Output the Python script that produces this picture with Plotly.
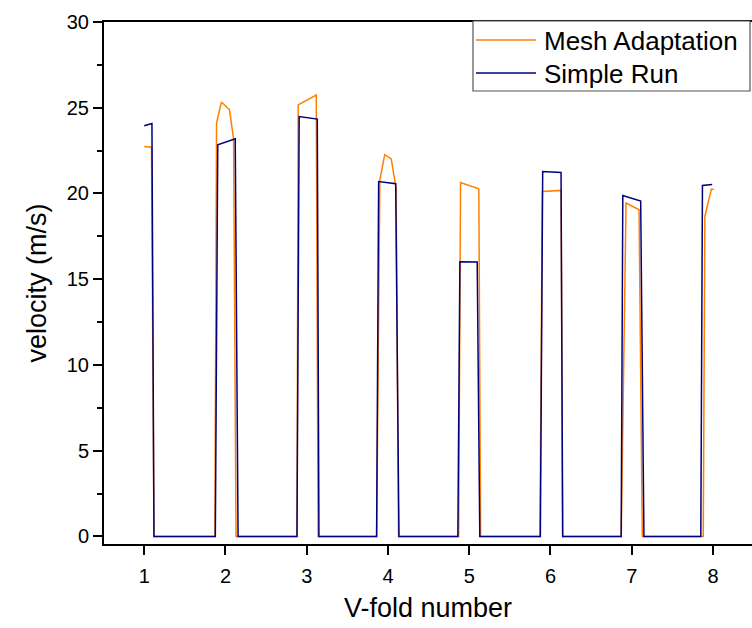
import plotly.graph_objects as go

# Mesh Adaptation (orange)
mesh_x = [1.0, 1.09, 1.12, 1.87, 1.89, 1.95, 2.05, 2.10, 2.13, 2.88, 2.895, 3.117, 3.14,
          3.86, 3.90, 3.96, 4.04, 4.10, 4.13, 4.87, 4.893, 5.118, 5.14, 5.87, 5.90, 6.13,
          6.15, 6.87, 6.93, 7.09, 7.13, 7.88, 7.90, 7.98, 8.01]
mesh_y = [22.74, 22.70, 0, 0, 24.1, 25.33, 24.88, 23.17, 0, 0, 25.17, 25.74, 0,
          0, 20.8, 22.26, 22.02, 20.3, 0, 0, 20.64, 20.27, 0, 0, 20.12, 20.18,
          0, 0, 19.44, 19.05, 0, 0, 18.66, 20.26, 20.23]

# Simple Run (navy)
simple_x = [1.0, 1.095, 1.12, 1.875, 1.905, 2.12, 2.155, 2.88, 2.907, 3.13, 3.15,
            3.86, 3.885, 4.095, 4.135, 4.86, 4.885, 5.098, 5.13, 5.875, 5.904, 6.13,
            6.15, 6.87, 6.89, 7.11, 7.15, 7.85, 7.87, 7.99]
simple_y = [23.95, 24.08, 0, 0, 22.84, 23.19, 0, 0, 24.49, 24.34, 0,
            0, 20.7, 20.57, 0, 0, 16.02, 16.0, 0, 0, 21.28, 21.23,
            0, 0, 19.88, 19.56, 0, 0, 20.47, 20.52]

series_names = ["Mesh Adaptation", "Simple Run"]
series_colors = ["#FF8000", "#000080"]

x_ticks = [1, 2, 3, 4, 5, 6, 7, 8]
y_ticks = [0, 5, 10, 15, 20, 25, 30]

FONT = "Liberation Sans, Arial, sans-serif"

fig = go.Figure()
for name, xs, ys, col in zip(series_names, [mesh_x, simple_x], [mesh_y, simple_y], series_colors):
    fig.add_trace(go.Scatter(x=xs, y=ys, mode="lines", name=name,
                             line=dict(color=col, width=1.5), showlegend=False))

# Legend drawn as a framed box (plot-area paper coordinates)
PL, PR, PT, PB = 104, 752, 22, 544
def px(xp):
    return (xp - PL) / (PR - PL)
def py(yp):
    return (PB - yp) / (PB - PT)

shapes = [dict(type="rect", xref="paper", yref="paper",
               x0=px(473), x1=px(750), y0=py(91), y1=py(21),
               line=dict(color="#555555", width=1.2), fillcolor="white", layer="above")]
annotations = []
row_y = [40, 73]
for name, col, ry in zip(series_names, series_colors, row_y):
    shapes.append(dict(type="line", xref="paper", yref="paper",
                       x0=px(476), x1=px(536), y0=py(ry), y1=py(ry),
                       line=dict(color=col, width=1.5), layer="above"))
    annotations.append(dict(text=name, xref="paper", yref="paper", x=px(542), y=py(ry + 1),
                            xanchor="left", yanchor="middle", showarrow=False,
                            font=dict(size=26, family=FONT, color="black")))

fig.update_layout(
    width=752, height=628,
    margin=dict(l=PL, r=0, t=PT, b=628 - PB),
    paper_bgcolor="white", plot_bgcolor="white",
    font=dict(family=FONT, color="black"),
    showlegend=False,
    shapes=shapes,
    annotations=annotations,
    xaxis=dict(range=[0.505, 8.48], tickvals=x_ticks, ticktext=[str(v) for v in x_ticks],
               showgrid=False, zeroline=False, showline=True, linecolor="black", linewidth=2,
               mirror=True, ticks="outside", ticklen=9, tickwidth=2, tickcolor="black",
               ticklabelstandoff=4,
               tickfont=dict(size=20, family=FONT),
               title=dict(text="V-fold number", font=dict(size=27, family=FONT), standoff=12)),
    yaxis=dict(range=[-0.44, 30], tickvals=y_ticks, ticktext=[str(v) for v in y_ticks],
               showgrid=False, zeroline=False, showline=True, linecolor="black", linewidth=2,
               mirror=False, ticks="outside", ticklen=9, tickwidth=2, tickcolor="black",
               minor=dict(dtick=2.5, ticks="outside", ticklen=5, tickwidth=2, tickcolor="black",
                          showgrid=False),
               tickfont=dict(size=20, family=FONT),
               title=dict(text="velocity (m/s)", font=dict(size=27, family=FONT), standoff=12)),
    yaxis2=dict(range=[-0.44, 30], overlaying="y", side="right", tickvals=y_ticks,
                showticklabels=False, showgrid=False, zeroline=False, showline=False,
                ticks="inside", ticklen=9, tickwidth=2, tickcolor="black",
                minor=dict(dtick=2.5, ticks="inside", ticklen=5, tickwidth=2, tickcolor="black",
                           showgrid=False)),
)

fig.write_html("out.html")
